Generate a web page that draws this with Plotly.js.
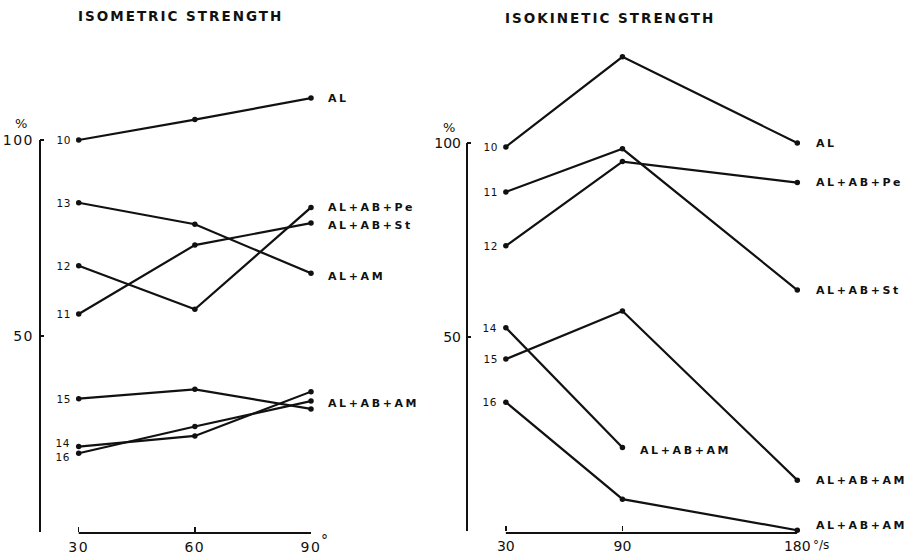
<!DOCTYPE html>
<html>
<head>
<meta charset="utf-8">
<script src="https://cdn.plot.ly/plotly-3.0.1.min.js"></script>
<style>
  body { margin: 0; background: #fff; }
  #chart { width: 915px; height: 557px; }
  .xtick text, .ytick text { letter-spacing: 1.5px; }
</style>
</head>
<body>
<div id="chart"></div>
<script>
// ---------------- DATA ----------------
const isoAngles = [30, 60, 90];
const kinSpeeds = [30, 90, 180];
const kinSpeeds14 = [30, 90];

const isoTitle = 'ISOMETRIC STRENGTH';
const kinTitle = 'ISOKINETIC STRENGTH';

// isometric strength (% of reference), by angle
const iso10 = [100.0, 105.2, 110.7];
const iso13 = [84.0, 78.5, 66.0];
const iso12 = [67.9, 56.8, 82.8];
const iso11 = [55.6, 73.2, 78.8];
const iso15 = [34.0, 36.4, 31.4];
const iso14 = [21.8, 24.5, 35.8];
const iso16 = [20.1, 26.9, 33.4];

// isokinetic strength (% of reference), by speed
const kin10 = [99.0, 122.2, 100.0];
const kin11 = [87.4, 98.5, 62.1];
const kin12 = [73.5, 95.2, 89.8];
const kin14 = [52.4, 21.5];
const kin15 = [44.3, 56.7, 13.1];
const kin16 = [33.2, 8.2, 0.2];

// series ids and end labels
const isoIds = ['10', '13', '12', '11', '15', '14', '16'];
const kinIds = ['10', '11', '12', '14', '15', '16'];
const nameAL = 'AL';
const nameAM = 'AL+AM';
const namePe = 'AL+AB+Pe';
const nameSt = 'AL+AB+St';
const nameABAM = 'AL+AB+AM';

// tick labels
const isoTickVals = [30, 60, 90];
const isoTickText = ['30', '60', '90'];
const kinTickVals = [30, 90, 180];
const kinTickText = ['30', '90', '180'];
const yTickVals = [0, 50, 100];
const yTickText = ['', '50', '100'];
const pctLabel = '%';
const degLabel = '°';
const speedUnit = '°/s';

// ---------------- BUILD ----------------
const W = 915, H = 557;
const px = v => v / W;
const py = v => 1 - v / H;
const INK = '#111';
const FONT = 'DejaVu Sans, sans-serif';

const traces = [];
const annotations = [];
const spacing = [];

function addAnn(a, sp) { annotations.push(a); spacing.push(sp || 0); }

function addSeries(xs, ys, axX, axY, id, idShiftY, name, nameShiftX, nameShiftY) {
  traces.push({
    x: xs, y: ys, xaxis: axX, yaxis: axY, type: 'scatter', mode: 'lines+markers',
    line: { color: INK, width: 2.2 }, marker: { color: INK, size: 5.5 },
    cliponaxis: false, hoverinfo: 'skip'
  });
  addAnn({
    xref: axX, yref: axY, x: xs[0], y: ys[0], text: id, showarrow: false,
    xanchor: 'right', yanchor: 'middle', xshift: -7, yshift: idShiftY,
    font: { family: FONT, size: 10.5, color: INK }
  }, 0.5);
  if (name) {
    const n = xs.length - 1;
    addAnn({
      xref: axX, yref: axY, x: xs[n], y: ys[n], text: name, showarrow: false,
      xanchor: 'left', yanchor: 'middle', align: 'left', xshift: nameShiftX, yshift: nameShiftY,
      font: { family: FONT, size: 11, color: INK, weight: 'bold' }
    }, 2.6);
  }
}

// left panel
addSeries(isoAngles, iso10, 'x', 'y', isoIds[0], 0, nameAL, 15, 0);
addSeries(isoAngles, iso13, 'x', 'y', isoIds[1], 0, nameAM, 15, -3);
addSeries(isoAngles, iso12, 'x', 'y', isoIds[2], 0, namePe, 15, 0);
addSeries(isoAngles, iso11, 'x', 'y', isoIds[3], 0, nameSt, 15, -2);
addSeries(isoAngles, iso15, 'x', 'y', isoIds[4], 0, null);
addSeries(isoAngles, iso14, 'x', 'y', isoIds[5], 4, null);
addSeries(isoAngles, iso16, 'x', 'y', isoIds[6], -4, nameABAM, 15, -2);

// right panel
addSeries(kinSpeeds, kin10, 'x2', 'y2', kinIds[0], 0, nameAL, 17, 0);
addSeries(kinSpeeds, kin11, 'x2', 'y2', kinIds[1], 0, nameSt, 17, 0);
addSeries(kinSpeeds, kin12, 'x2', 'y2', kinIds[2], 0, namePe, 17, 0);
addSeries(kinSpeeds14, kin14, 'x2', 'y2', kinIds[3], 0, nameABAM, 16, -3);
addSeries(kinSpeeds, kin15, 'x2', 'y2', kinIds[4], 0, nameABAM, 17, 0);
addSeries(kinSpeeds, kin16, 'x2', 'y2', kinIds[5], 0, nameABAM, 17, 5);

// titles
addAnn({ xref: 'paper', yref: 'paper', x: px(76), y: py(16), text: isoTitle, showarrow: false,
  xanchor: 'left', yanchor: 'middle', align: 'left',
  font: { family: FONT, size: 13.5, color: INK, weight: 'bold' } }, 2.0);
addAnn({ xref: 'paper', yref: 'paper', x: px(503), y: py(18), text: kinTitle, showarrow: false,
  xanchor: 'left', yanchor: 'middle', align: 'left',
  font: { family: FONT, size: 13.5, color: INK, weight: 'bold' } }, 2.0);

// % labels and units
addAnn({ xref: 'paper', yref: 'paper', x: px(21), y: py(124), text: pctLabel, showarrow: false,
  xanchor: 'center', yanchor: 'middle', font: { family: FONT, size: 13, color: INK } }, 0);
addAnn({ xref: 'paper', yref: 'paper', x: px(449), y: py(127), text: pctLabel, showarrow: false,
  xanchor: 'center', yanchor: 'middle', font: { family: FONT, size: 13, color: INK } }, 0);
addAnn({ xref: 'x', yref: 'paper', x: isoTickVals[2], y: py(540), text: degLabel, showarrow: false,
  xanchor: 'left', yanchor: 'middle', xshift: 8, font: { family: FONT, size: 14, color: INK } }, 0);
addAnn({ xref: 'x2', yref: 'paper', x: kinTickVals[2], y: py(545), text: speedUnit, showarrow: false,
  xanchor: 'left', yanchor: 'middle', xshift: 14, font: { family: FONT, size: 12, color: INK } }, 0);

// axis frame lines (bracket-style), in axis coordinates
const shapes = [
  { type: 'line', xref: 'paper', yref: 'y', x0: px(40), x1: px(40), y0: 0, y1: 100, line: { color: INK, width: 2 } },
  { type: 'line', xref: 'x', yref: 'paper', x0: isoTickVals[0], x1: isoTickVals[2], y0: py(533), y1: py(533), line: { color: INK, width: 2 } },
  { type: 'line', xref: 'paper', yref: 'y2', x0: px(467), x1: px(467), y0: 0, y1: 100, line: { color: INK, width: 2 } },
  { type: 'line', xref: 'x2', yref: 'paper', x0: kinTickVals[0], x1: kinTickVals[2], y0: py(533), y1: py(533), line: { color: INK, width: 2 } }
];

const axFont = { family: FONT, size: 14, color: INK };
const baseX = { showgrid: false, zeroline: false, showline: false, ticks: 'inside', ticklen: 5,
  tickwidth: 1.5, tickcolor: INK, tickfont: axFont, ticklabelstandoff: 5, fixedrange: true };
const baseY = { showgrid: false, zeroline: false, showline: false, ticks: 'inside', ticklen: 4,
  tickwidth: 2, tickcolor: INK, tickfont: axFont, tickvals: yTickVals, ticktext: yTickText,
  ticklabelstandoff: 5, fixedrange: true };

const layout = {
  width: W, height: H,
  margin: { l: 0, r: 0, t: 0, b: 0 },
  paper_bgcolor: '#fff', plot_bgcolor: 'rgba(0,0,0,0)',
  showlegend: false,
  xaxis: Object.assign({}, baseX, { domain: [px(40), px(311)], range: [20, 90], anchor: 'y',
    tickvals: isoTickVals, ticktext: isoTickText }),
  yaxis: Object.assign({}, baseY, { domain: [py(532), py(42)], range: [0, 125], anchor: 'x' }),
  xaxis2: Object.assign({}, baseX, { domain: [px(467), px(797.3)], range: [10, 180], anchor: 'y2',
    tickvals: kinTickVals, ticktext: kinTickText }),
  yaxis2: Object.assign({}, baseY, { domain: [py(531), py(26.6)], range: [0, 130], anchor: 'x2' }),
  shapes: shapes,
  annotations: annotations
};

Plotly.newPlot('chart', traces, layout, { staticPlot: true, displayModeBar: false }).then(gd => {
  gd.querySelectorAll('g.annotation').forEach(g => {
    const i = +g.getAttribute('data-index');
    const t = g.querySelector('text.annotation-text');
    if (t && spacing[i]) t.style.letterSpacing = spacing[i] + 'px';
  });
});
</script>
</body>
</html>
